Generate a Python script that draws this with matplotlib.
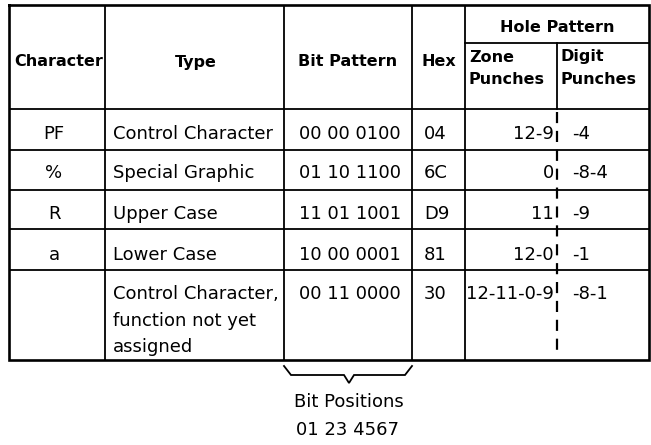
import matplotlib
matplotlib.use("Agg")
import matplotlib.pyplot as plt

plt.rcParams["font.family"] = ["DejaVu Sans"]

# table content
characters = ["PF", "%", "R", "a", ""]
types = [
    ["Control Character"],
    ["Special Graphic"],
    ["Upper Case"],
    ["Lower Case"],
    ["Control Character,", "function not yet", "assigned"],
]
bit_patterns = ["00 00 0100", "01 10 1100", "11 01 1001", "10 00 0001", "00 11 0000"]
hex_codes = ["04", "6C", "D9", "81", "30"]
zone_punches = ["12-9", "0", "11", "12-0", "12-11-0-9"]
digit_punches = ["-4", "-8-4", "-9", "-1", "-8-1"]
footer_lines = ["Bit Positions", "01 23 4567"]

# layout (pixel coordinates, y downwards)
W, H = 651, 445
col_edges = [9, 105, 284, 412, 465, 557, 649]
top, sub_line, header_bottom, bottom = 5, 43, 109, 360
row_lines = [109, 150, 189.5, 229, 270]
row_baselines = [139, 178, 219, 260, 299]
line_step = 26.5

BODY = 13
HEAD = 11.5
INNER = 1.3
OUTER = 1.9

fig = plt.figure(figsize=(W / 100, H / 100), dpi=100)
ax = fig.add_axes([0, 0, 1, 1])
ax.set_xlim(0, W)
ax.set_ylim(H, 0)
ax.axis("off")

left, right = col_edges[0], col_edges[-1]

# grid
for y in row_lines:
    ax.plot([left, right], [y, y], color="black", lw=INNER, solid_capstyle="butt")
ax.plot([col_edges[4], right], [sub_line, sub_line], color="black", lw=INNER)
for x in col_edges[1:5]:
    ax.plot([x, x], [top, bottom], color="black", lw=INNER, solid_capstyle="butt")
ax.plot([col_edges[5]] * 2, [sub_line, header_bottom], color="black", lw=INNER)
ax.plot([col_edges[5]] * 2, [header_bottom + 3, bottom - 4], color="black",
        lw=INNER + 0.3, linestyle=(0, (5, 3.5)))
ax.plot([left, right, right, left, left], [top, top, bottom, bottom, top],
        color="black", lw=OUTER, solid_joinstyle="miter")

# header
hkw = dict(fontsize=HEAD, fontweight="bold", color="black")
ax.text(14, 62, "Character", ha="left", va="center", **hkw)
ax.text(196, 62, "Type", ha="center", va="center", **hkw)
ax.text((col_edges[2] + col_edges[3]) / 2, 62, "Bit Pattern", ha="center", va="center", **hkw)
ax.text((col_edges[3] + col_edges[4]) / 2, 62, "Hex", ha="center", va="center", **hkw)
ax.text((col_edges[4] + right) / 2, 27, "Hole Pattern", ha="center", va="center", **hkw)
ax.text(469, 57, "Zone", ha="left", va="center", **hkw)
ax.text(469, 79, "Punches", ha="left", va="center", **hkw)
ax.text(561, 57, "Digit", ha="left", va="center", **hkw)
ax.text(561, 79, "Punches", ha="left", va="center", **hkw)

# body rows
bkw = dict(fontsize=BODY, color="black", va="baseline")
for i, yb in enumerate(row_baselines):
    ax.text(54, yb, characters[i], ha="center", **bkw)
    for k, line in enumerate(types[i]):
        ax.text(113, yb + k * line_step, line, ha="left", **bkw)
    ax.text(350, yb, bit_patterns[i], ha="center", **bkw)
    ax.text(424, yb, hex_codes[i], ha="left", **bkw)
    ax.text(554, yb, zone_punches[i], ha="right", **bkw)
    ax.text(572, yb, digit_punches[i], ha="left", **bkw)

# brace under the bit pattern column
bx = [284, 291, 344, 349, 354, 405, 412]
by = [366, 375, 375, 383, 375, 375, 366]
ax.plot(bx, by, color="black", lw=INNER, solid_joinstyle="miter")

ax.text(349, 407, footer_lines[0], ha="center", **bkw)
ax.text(348, 435, footer_lines[1], ha="center", **bkw)

fig.savefig("out.png", dpi=100, facecolor="white")
